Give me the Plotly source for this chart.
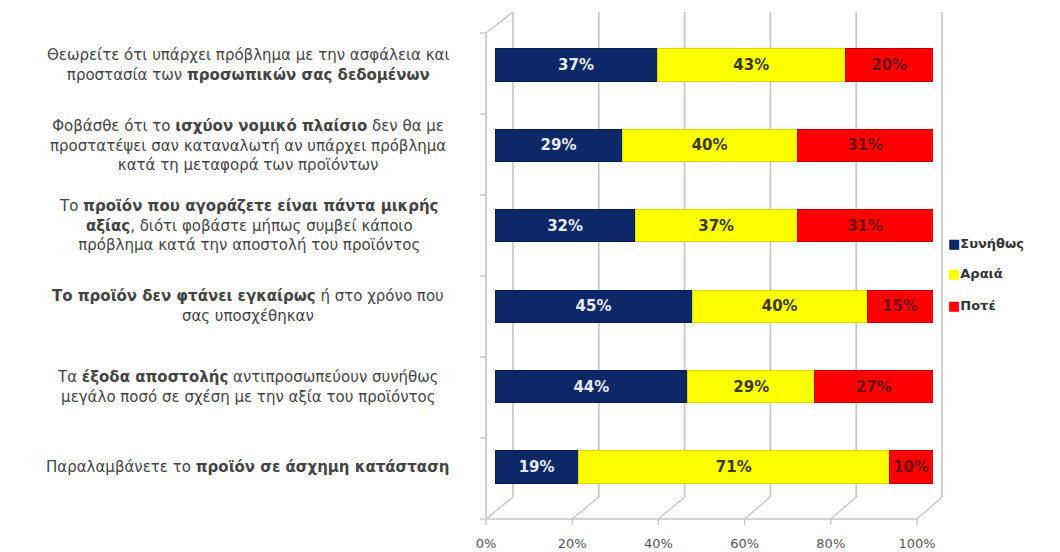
import plotly.graph_objects as go

W, H = 1060, 552

# Survey statements (top to bottom)
statements = [
    "Θεωρείτε ότι υπάρχει πρόβλημα με την ασφάλεια και<br>προστασία των <b>προσωπικών σας δεδομένων</b>",
    "Φοβάσθε ότι το <b>ισχύον νομικό πλαίσιο</b> δεν θα με<br>προστατέψει σαν καταναλωτή αν υπάρχει πρόβλημα<br>κατά τη μεταφορά των προϊόντων",
    "Το <b>προϊόν που αγοράζετε είναι πάντα μικρής<br>αξίας</b>, διότι φοβάστε μήπως συμβεί κάποιο<br>πρόβλημα κατά την αποστολή του προϊόντος",
    "<b>Το προϊόν δεν φτάνει εγκαίρως</b> ή στο χρόνο που<br>σας υποσχέθηκαν",
    "Τα <b>έξοδα αποστολής</b> αντιπροσωπεύουν συνήθως<br>μεγάλο ποσό σε σχέση με την αξία του προϊόντος",
    "Παραλαμβάνετε το <b>προϊόν σε άσχημη κατάσταση</b>",
]

series_names = ["Συνήθως", "Αραιά", "Ποτέ"]
often = [37, 29, 32, 45, 44, 19]
rarely = [43, 40, 37, 40, 29, 71]
never = [20, 31, 31, 15, 27, 10]

tick_vals = [0, 20, 40, 60, 80, 100]
tick_text = ["0%", "20%", "40%", "60%", "80%", "100%"]

bar_colors = ["#0c2868", "#ffff00", "#ff0000"]
edge_colors = ["#071a48", "#d8d800", "#c80000"]
text_colors = ["#e8eaf4", "#3a3a00", "#6e0000"]

cats = [f"s{i}" for i in range(len(statements))]


def px(x):
    return x / W


def py(y):
    return 1 - y / H


fig = go.Figure()
for name, vals, col, edge, tcol in zip(series_names, [often, rarely, never],
                                       bar_colors, edge_colors, text_colors):
    fig.add_trace(go.Bar(
        y=cats, x=vals, name=name, orientation="h",
        marker=dict(color=col, line=dict(color=edge, width=1)),
        text=[f"{v}%" for v in vals], textposition="inside",
        insidetextanchor="middle",
        textfont=dict(family="DejaVu Sans", size=15, color=tcol, weight="bold"),
        showlegend=False,
    ))

# carrier trace for the front percentage axis
fig.add_trace(go.Scatter(
    x=[0, 100], y=[cats[0], cats[0]], xaxis="x2", yaxis="y",
    mode="markers", marker=dict(opacity=0), hoverinfo="skip", showlegend=False,
))

# 3D-style frame: back wall gridlines, floor diagonals, left wall (behind the bars)
grid = "#c4c4c4"
shapes = []
back_x0, back_w, back_top, back_bot = 513, 429, 12, 497
front_x0, front_w, front_top, front_bot = 486, 431, 33, 519


def seg(x0, y0, x1, y1, width=1.3):
    return dict(type="line", xref="paper", yref="paper", layer="below",
                x0=px(x0), x1=px(x1), y0=py(y0), y1=py(y1),
                line=dict(color=grid, width=width))


for t in tick_vals:
    bx = back_x0 + back_w * t / 100
    fx = front_x0 + front_w * t / 100
    shapes.append(seg(bx, back_top, bx, back_bot, 1.6))
    shapes.append(seg(bx, back_bot, fx, front_bot))
    shapes.append(seg(fx, front_bot, fx, front_bot + 6))
# front floor edge
shapes.append(seg(front_x0, front_bot, front_x0 + front_w, front_bot, 1.6))
# left wall front edge and top diagonal
shapes.append(seg(front_x0, front_top, front_x0, front_bot, 1.6))
shapes.append(seg(front_x0, front_top, back_x0, back_top))
# category tick marks on the left wall
step = (front_bot - front_top) / len(statements)
for k in range(len(statements) + 1):
    yy = front_top + step * k
    shapes.append(seg(front_x0 - 6, yy, front_x0, yy))

annotations = []
for c, s in zip(cats, statements):
    annotations.append(dict(
        x=px(248), xref="paper", y=c, yref="y", text=s, showarrow=False,
        xanchor="center", yanchor="middle", align="center",
        font=dict(family="DejaVu Sans", size=15, color="#444444"),
    ))

# legend entries
legend_y = [243, 273, 305]
for name, col, yy in zip(series_names, bar_colors, legend_y):
    annotations.append(dict(
        x=px(946), xref="paper", y=py(yy), yref="paper", showarrow=False,
        xanchor="left", yanchor="middle",
        text=f"<span style='color:{col}'>■</span><b>{name}</b>",
        font=dict(family="DejaVu Sans", size=13, color="#333333"),
    ))

fig.update_layout(
    width=W, height=H, autosize=False,
    margin=dict(l=0, r=0, t=0, b=0, pad=0, autoexpand=False),
    paper_bgcolor="white", plot_bgcolor="rgba(0,0,0,0)",
    barmode="stack", bargap=0.6,
    shapes=shapes, annotations=annotations,
    xaxis=dict(domain=[px(495), px(933)], range=[0, 100], showgrid=False,
               zeroline=False, showticklabels=False, showline=False, automargin=False),
    xaxis2=dict(domain=[px(front_x0), px(front_x0 + front_w)], range=[0, 100],
                anchor="free", position=py(534), side="bottom",
                tickvals=tick_vals, ticktext=tick_text, showgrid=False,
                zeroline=False, showline=False, ticks="", automargin=False,
                tickfont=dict(family="DejaVu Sans", size=13, color="#555555")),
    yaxis=dict(domain=[py(507.2), py(24.8)], categoryorder="array",
               categoryarray=cats, range=[5.5, -0.5], showticklabels=False,
               showgrid=False, zeroline=False, showline=False, automargin=False),
)

fig.write_html("out.html")
